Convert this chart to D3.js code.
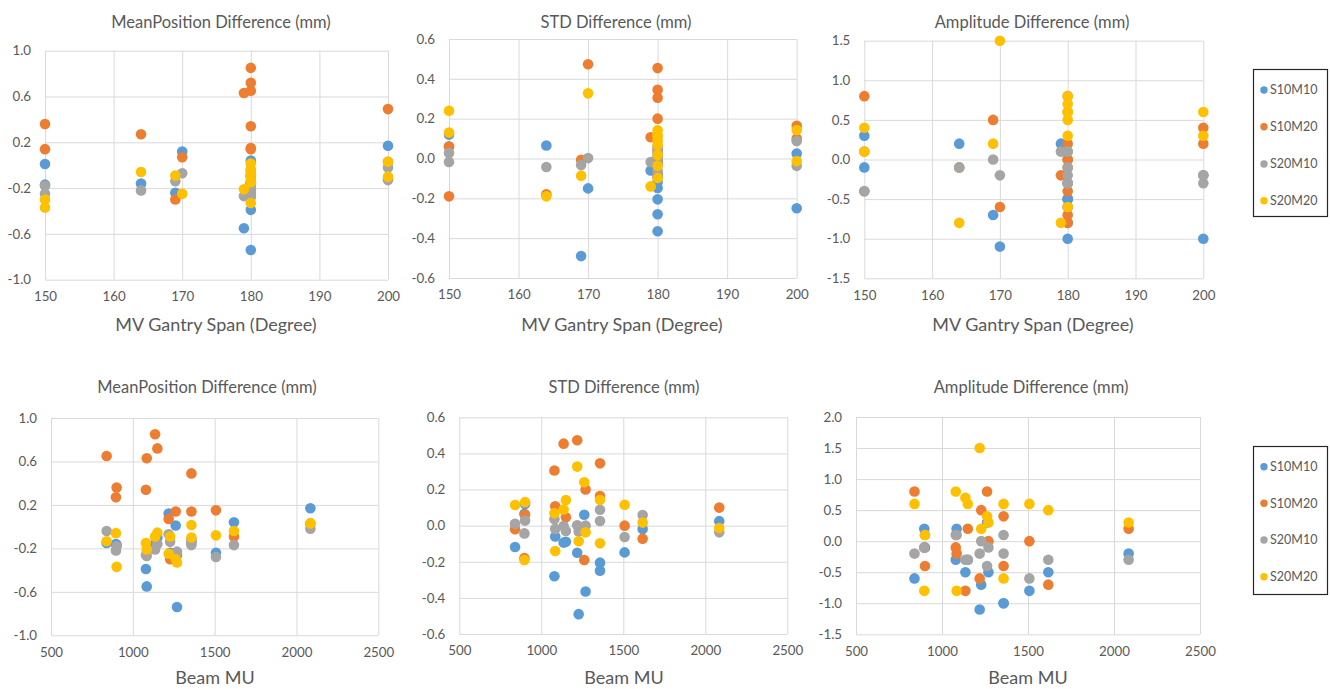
<!DOCTYPE html>
<html>
<head>
<meta charset="utf-8">
<script src="https://cdn.jsdelivr.net/npm/d3@7"></script>
<style>
body { margin: 0; background: #fff; }
svg text { font-family: Lato, "Open Sans", sans-serif; fill: #595959; }
</style>
</head>
<body>
<div id="chart"></div>
<script>
// series and colours
const series = ['S10M10', 'S10M20', 'S20M10', 'S20M20'];
const colors = ['#5B9BD5', '#ED7D31', '#A5A5A5', '#FFC000'];

// one entry per plan
const gantrySpan = [150, 150, 164, 169, 170, 179, 180, 180, 180, 180, 180, 180, 180, 180, 200, 200];
const beamMU = [1262, 901, 897, 1228, 1219, 1085, 1136, 1150, 840, 1080, 1508, 1358, 1270, 1618, 1358, 2085];

// one row per series (S10M10, S10M20, S20M10, S20M20)
const meanPosition = [
  [0.01, -0.17, -0.16, -0.24, 0.12, -0.55, -0.16, -0.10, -0.15, -0.39, -0.24, -0.15, -0.74, 0.04, -0.12, 0.17],
  [0.14, 0.36, 0.27, -0.30, 0.07, 0.63, 0.85, 0.72, 0.65, 0.34, 0.15, 0.14, -0.26, -0.09, 0.49, 0.03],
  [-0.25, -0.18, -0.22, -0.14, -0.07, -0.27, -0.21, -0.16, -0.04, -0.26, -0.28, -0.17, -0.23, -0.17, -0.13, -0.02],
  [-0.30, -0.37, -0.06, -0.09, -0.25, -0.21, -0.09, -0.055, -0.135, -0.15, -0.08, 0.015, -0.33, -0.04, -0.10, 0.03]
];
const stdDiff = [
  [0.06, 0.12, 0.065, -0.49, -0.15, -0.06, -0.094, -0.089, -0.118, -0.28, -0.148, -0.205, -0.365, -0.018, -0.25, 0.025],
  [-0.19, 0.06, -0.18, -0.007, 0.473, 0.107, 0.454, 0.046, -0.02, 0.305, 0.0, 0.345, 0.20, -0.072, 0.164, 0.10],
  [-0.017, 0.028, -0.043, -0.033, 0.002, -0.018, -0.002, -0.03, 0.01, 0.035, -0.063, 0.026, 0.0, 0.059, 0.088, -0.037],
  [0.24, 0.13, -0.19, -0.086, 0.327, -0.14, 0.09, 0.142, 0.114, 0.068, 0.116, -0.098, -0.037, 0.017, 0.143, -0.013]
];
const amplitudeDiff = [
  [0.3, -0.1, 0.2, -0.7, -1.1, 0.2, -0.5, -0.3, -0.6, -0.3, -0.8, -1.0, -0.5, -0.5, -1.0, -0.2],
  [0.8, -0.4, -0.1, 0.5, -0.6, -0.2, -0.8, 0.2, 0.8, -0.1, 0.0, -0.4, 0.0, -0.7, 0.4, 0.2],
  [-0.4, 0.1, -0.1, 0.0, -0.2, 0.1, -0.3, -0.3, -0.2, 0.1, -0.6, 0.1, -0.1, -0.3, -0.2, -0.3],
  [0.4, 0.1, -0.8, 0.2, 1.5, -0.8, 0.7, 0.6, 0.6, 0.8, 0.6, -0.6, 0.3, 0.5, 0.6, 0.3]
];

// tick labels
const spanTicks = [150, 160, 170, 180, 190, 200];
const muTicks = [500, 1000, 1500, 2000, 2500];
const meanTicks = [-1.0, -0.6, -0.2, 0.2, 0.6, 1.0];
const stdTicks = [-0.6, -0.4, -0.2, 0.0, 0.2, 0.4, 0.6];
const ampTicksTop = [-1.5, -1.0, -0.5, 0.0, 0.5, 1.0, 1.5];
const ampTicksBottom = [-1.5, -1.0, -0.5, 0.0, 0.5, 1.0, 1.5, 2.0];

const titles = ['MeanPosition Difference (mm)', 'STD Difference (mm)', 'Amplitude Difference (mm)'];
const xTitles = ['MV Gantry Span (Degree)', 'Beam MU'];

let w = 1330;
let h = 689;

let svg = d3.select('#chart').
append('svg').
attr('width', w).
attr('height', h);

let fmt = d => d3.format('.1f')(d).replace('\u2212', '-');

// layout of each panel: plot box [left, right, top, bottom]
let panels = [
  {vals: meanPosition, xs: gantrySpan, xt: spanTicks, yt: meanTicks, box: [45, 388, 50.7, 279.7], title: titles[0], tx: 221, ty: 22, xl: xTitles[0], lx: 216, ly: 325},
  {vals: stdDiff, xs: gantrySpan, xt: spanTicks, yt: stdTicks, box: [449, 796.7, 39, 278], title: titles[1], tx: 616, ty: 22, xl: xTitles[0], lx: 622, ly: 325},
  {vals: amplitudeDiff, xs: gantrySpan, xt: spanTicks, yt: ampTicksTop, box: [864.3, 1203.3, 40.7, 278.3], title: titles[2], tx: 1032, ty: 22, xl: xTitles[0], lx: 1033, ly: 325},
  {vals: meanPosition, xs: beamMU, xt: muTicks, yt: meanTicks, box: [51, 378.3, 418, 635.3], title: titles[0], tx: 207, ty: 387, xl: xTitles[1], lx: 215, ly: 678},
  {vals: stdDiff, xs: beamMU, xt: muTicks, yt: stdTicks, box: [459.3, 787.3, 417.3, 634], title: titles[1], tx: 624, ty: 387, xl: xTitles[1], lx: 624, ly: 678},
  {vals: amplitudeDiff, xs: beamMU, xt: muTicks, yt: ampTicksBottom, box: [856, 1200, 417, 634.3], title: titles[2], tx: 1031, ty: 387, xl: xTitles[1], lx: 1028, ly: 678}
];

panels.forEach(p => {
  let [l, r, t, b] = p.box;
  let x = d3.scaleLinear().domain(d3.extent(p.xt)).range([l, r]);
  let y = d3.scaleLinear().domain(d3.extent(p.yt)).range([b, t]);

  let gy = svg.append('g').
  attr('transform', 'translate(' + l + ',0)').
  call(d3.axisLeft(y).tickValues(p.yt).tickFormat(fmt).tickSize(-(r - l)).tickPadding(14));

  let gx = svg.append('g').
  attr('transform', 'translate(0,' + b + ')').
  call(d3.axisBottom(x).tickValues(p.xt).tickFormat(d3.format('d')).tickSize(-(b - t)).tickPadding(12));

  [gx, gy].forEach(g => {
    g.select('.domain').remove();
    g.selectAll('line').attr('stroke', '#D9D9D9').attr('stroke-width', 1);
    g.selectAll('text').style('font-size', '13.3px').attr('fill', '#595959');
  });

  svg.append('text').
  attr('x', p.tx).
  attr('y', p.ty).
  attr('text-anchor', 'middle').
  attr('dy', '0.35em').
  style('font-size', '16.5px').
  text(p.title);

  svg.append('text').
  attr('x', p.lx).
  attr('y', p.ly).
  attr('text-anchor', 'middle').
  attr('dy', '0.35em').
  style('font-size', '18px').
  text(p.xl);

  series.forEach((s, si) => {
    svg.append('g').
    selectAll('circle').
    data(p.vals[si]).
    join('circle').
    attr('cx', (d, i) => x(p.xs[i])).
    attr('cy', d => y(d)).
    attr('r', 5.3).
    attr('fill', colors[si]);
  });
});

// legends
[[1253, 69, 147, [90, 126.7, 164, 200.7]], [1253, 446, 148, [466.7, 503.3, 540, 576.7]]].forEach(lg => {
  let g = svg.append('g');
  g.append('rect').
  attr('x', lg[0] + 0.5).
  attr('y', lg[1] + 0.5).
  attr('width', 74).
  attr('height', lg[2]).
  attr('fill', '#fff').
  attr('stroke', '#262626').
  attr('stroke-width', 1.2);

  g.selectAll('circle').
  data(series).
  join('circle').
  attr('cx', lg[0] + 11).
  attr('cy', (d, i) => lg[3][i]).
  attr('r', 3.7).
  attr('fill', (d, i) => colors[i]);

  g.selectAll('text').
  data(series).
  join('text').
  attr('x', lg[0] + 17).
  attr('y', (d, i) => lg[3][i]).
  attr('dy', '0.35em').
  style('font-size', '12.5px').
  text(d => d);
});
</script>
</body>
</html>
